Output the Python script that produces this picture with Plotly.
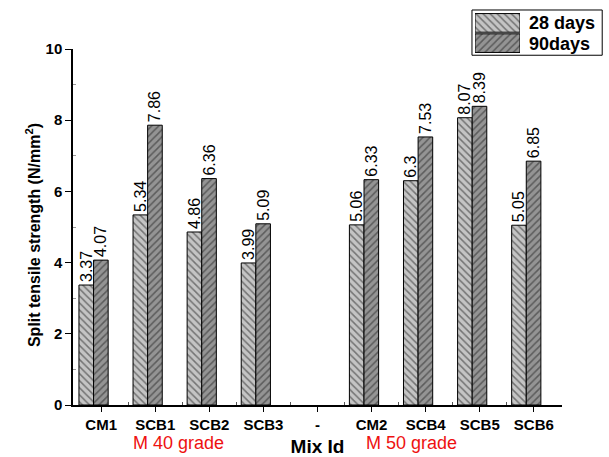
import plotly.graph_objects as go

# Split tensile strength of each mix at 28 and 90 days (N/mm^2)
mix_ids = ["CM1", "SCB1", "SCB2", "SCB3", "-", "CM2", "SCB4", "SCB5", "SCB6"]
strength_28 = [3.37, 5.34, 4.86, 3.99, None, 5.06, 6.3, 8.07, 5.05]
strength_90 = [4.07, 7.86, 6.36, 5.09, None, 6.33, 7.53, 8.39, 6.85]
series_names = ["28 days", "90days"]
y_ticks = [0, 2, 4, 6, 8, 10]

positions = list(range(len(mix_ids)))
font_family = "Liberation Sans, Arial, sans-serif"

fig = go.Figure()

styles = [
    dict(color="#c4c4c4", shape="\\", offset=-0.41),
    dict(color="#949494", shape="/", offset=-0.14),
]

for name, values, st in zip(series_names, [strength_28, strength_90], styles):
    xs = [p for p, v in zip(positions, values) if v is not None]
    ys = [v for v in values if v is not None]
    fig.add_trace(go.Bar(
        x=xs, y=ys, name=name,
        offset=st["offset"], width=0.27,
        marker=dict(
            color=st["color"],
            line=dict(color="black", width=1),
            pattern=dict(shape=st["shape"], fgcolor="#222222", size=5,
                         solidity=0.3, fillmode="overlay"),
        ),
        text=[str(v) for v in ys], textposition="outside", textangle=-90,
        textfont=dict(family=font_family, size=16, color="black"),
        constraintext="none", cliponaxis=False, showlegend=False,
        xaxis="x", yaxis="y",
    ))

# Legend key drawn as a small inset of patterned swatches
for i, (name, st) in enumerate(zip(series_names, styles)):
    fig.add_trace(go.Bar(
        x=[1], y=[1 - i], orientation="h", width=0.92, name=name,
        marker=dict(
            color=st["color"],
            line=dict(color="black", width=1),
            pattern=dict(shape=st["shape"], fgcolor="#222222", size=5,
                         solidity=0.3, fillmode="overlay"),
        ),
        showlegend=False, hoverinfo="skip",
        xaxis="x2", yaxis="y2",
    ))

x_dom = [0, 0.9226]
y_dom = [0, 0.8967]

fig.update_layout(
    width=609, height=457,
    margin=dict(l=73, r=6, t=8, b=52),
    paper_bgcolor="white", plot_bgcolor="white",
    barmode="overlay",
    font=dict(family=font_family, color="black"),
    xaxis=dict(
        domain=x_dom, range=[-0.52, 8.52], automargin=False,
        tickmode="array", tickvals=positions,
        ticktext=[f"<b>{m}</b>" for m in mix_ids],
        tickfont=dict(size=15, family=font_family, color="black"),
        showline=True, linecolor="black", linewidth=1.5,
        ticks="outside", ticklen=5, tickcolor="black", tickwidth=1.2,
        minor=dict(tickmode="array",
                   tickvals=[p + 0.5 for p in positions[:-1]],
                   ticks="inside", ticklen=3, tickcolor="#555"),
        showgrid=False, zeroline=False,
        title=dict(text="<b>Mix Id</b>", font=dict(size=19), standoff=12),
    ),
    yaxis=dict(
        domain=y_dom, range=[0, 10], automargin=False,
        tickmode="array", tickvals=y_ticks,
        ticktext=[f"<b>{t}</b>" for t in y_ticks],
        tickfont=dict(size=15, family=font_family, color="black"),
        showline=True, linecolor="black", linewidth=1.5,
        ticks="outside", ticklen=6, tickcolor="black", tickwidth=1.2,
        minor=dict(tickmode="array", tickvals=[1, 3, 5, 7, 9],
                   ticks="inside", ticklen=3, tickcolor="#999"),
        showgrid=False, zeroline=False,
    ),
    xaxis2=dict(domain=[0.7585, 0.8434], range=[0, 1], visible=False,
                fixedrange=True),
    yaxis2=dict(domain=[0.886, 0.988], range=[-0.5, 1.5], visible=False,
                fixedrange=True),
)

# Y-axis title, placed a little below the axis middle
fig.add_annotation(
    text="<b>Split tensile strength (N/mm<sup>2</sup>)</b>",
    xref="paper", yref="paper", x=-0.0755, y=0.428, textangle=-90,
    xanchor="center", yanchor="middle", showarrow=False,
    font=dict(size=16, color="black"),
)

# Legend frame and entry names
fig.add_shape(type="rect", xref="paper", yref="paper",
              x0=0.7528, x1=0.9985, y0=0.881, y1=0.995,
              line=dict(color="black", width=1), fillcolor="rgba(0,0,0,0)")
for i, name in enumerate(series_names):
    fig.add_annotation(
        text=f"<b>{name}</b>", xref="paper", yref="paper",
        x=0.856, y=0.962 - i * 0.053, xanchor="left", yanchor="middle",
        showarrow=False, font=dict(size=18, color="black"),
    )

# Grade group labels under the mix ids
for text, xpos in [("M 40 grade", 1.43), ("M 50 grade", 5.73)]:
    fig.add_annotation(
        text=text, x=xpos, xref="x", y=-0.095, yref="paper",
        xanchor="center", yanchor="middle", showarrow=False,
        font=dict(size=18, color="#ee1111"),
    )

fig.write_html("out.html")
